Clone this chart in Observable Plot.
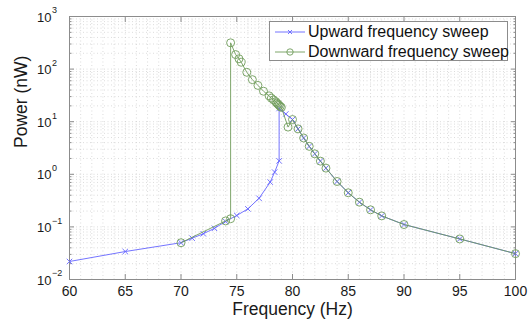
<!DOCTYPE html>
<html><head><meta charset="utf-8">
<script src="https://cdn.jsdelivr.net/npm/d3@7"></script>
<script src="https://cdn.jsdelivr.net/npm/@observablehq/plot@0.6"></script>
<style>
body{margin:0;background:#fff;font-family:"Liberation Sans",Arial,sans-serif}
#wrap{position:relative;width:530px;height:320px}
.legend{position:absolute;left:269px;top:21px;width:239px;height:40px;border:1px solid #8c8c8c;background:#fff;font-size:16px;color:#111;box-sizing:border-box}
.row{position:absolute;left:5px;height:20px;display:flex;align-items:center;white-space:nowrap}
.row svg{margin-right:3px}
</style></head>
<body><div id="wrap"></div>
<script>
const upFreq  = [60, 65, 70, 71, 72, 73, 74, 75, 76, 77, 78, 78.4, 78.8, 78.8, 79.4, 80, 80.5, 81, 81.5, 82, 82.5, 83, 84, 85, 86, 87, 88, 90, 95, 100];
const upPower = [0.022, 0.034, 0.05, 0.061, 0.074, 0.094, 0.127, 0.165, 0.22, 0.35, 0.71, 1.1, 1.8, 17.8, 14, 11, 7.3, 4.9, 3.4, 2.45, 1.78, 1.31, 0.73, 0.445, 0.295, 0.211, 0.162, 0.111, 0.059, 0.031];
const downFreq  = [100, 95, 90, 88, 87, 86, 85, 84, 83, 82.5, 82, 81.5, 81, 80.5, 80, 79.6, 79, 78.9, 78.8, 78.7, 78.6, 78.5, 78.3, 78.1, 77.9, 77.4, 76.9, 76.4, 75.9, 75.4, 75.2, 74.9, 74.45, 74.45, 74, 70];
const downPower = [0.031, 0.059, 0.111, 0.162, 0.211, 0.295, 0.445, 0.73, 1.31, 1.78, 2.45, 3.4, 4.9, 7.3, 11, 7.9, 18.7, 19.5, 20.5, 21.5, 22.5, 24, 26, 28, 31, 38, 49, 63, 87, 135, 157, 189, 316, 0.143, 0.13, 0.05];
const xTicks = [60, 65, 70, 75, 80, 85, 90, 95, 100];
const yTickExponents = [-2, -1, 0, 1, 2, 3];
const seriesNames = ["Upward frequency sweep", "Downward frequency sweep"];
const xLabel = "Frequency (Hz)";
const yLabel = "Power (nW)";

const blue = "#6464ff", green = "#6f9c5a", axisGray = "#8c8c8c", ink = "#1a1a1a";
const up = upFreq.map((f, i) => ({f, p: upPower[i]}));
const down = downFreq.map((f, i) => ({f, p: downPower[i]}));
const yMajor = yTickExponents.map(e => Math.pow(10, e));
const yMinor = [];
for (let e = -2; e <= 2; e++) for (let k = 2; k <= 9; k++) yMinor.push(k * Math.pow(10, e));
const xMinor = d3.range(60, 101, 1);
const sup = e => String(e).replace("-", "\u2212");

const grid = {stroke: "#c4c4c4", strokeOpacity: 1, strokeDasharray: "1,2.5", strokeWidth: 0.6};
const tk = {tickFormat: () => "", label: null, stroke: axisGray};

const chart = Plot.plot({
  width: 530, height: 320,
  marginLeft: 69, marginRight: 15, marginTop: 16, marginBottom: 41,
  style: {fontFamily: "Liberation Sans, Arial, sans-serif", background: "white", color: ink},
  x: {domain: [60, 100]},
  y: {type: "log", domain: [1e-2, 1e3]},
  marks: [
    Plot.gridX(xMinor, grid),
    Plot.gridY(yMinor, grid),
    Plot.gridY(yMajor, grid),
    Plot.axisX(xTicks, {anchor: "bottom", tickSize: -5, ...tk}),
    Plot.axisX(xTicks, {anchor: "top", tickSize: -5, ...tk}),
    Plot.axisY(yMajor, {anchor: "left", tickSize: -5, ...tk}),
    Plot.axisY(yMajor, {anchor: "right", tickSize: -5, ...tk}),
    Plot.axisY(yMinor, {anchor: "left", tickSize: -2.5, ...tk}),
    Plot.axisY(yMinor, {anchor: "right", tickSize: -2.5, ...tk}),
    Plot.axisX(xTicks, {anchor: "bottom", tickSize: 0, tickPadding: 7, fontSize: 14, label: null, fill: ink}),
    Plot.text(yMajor, {y: d => d, text: () => "10", frameAnchor: "left", dx: -18, dy: 1, textAnchor: "end", fontSize: 13, fill: ink}),
    Plot.text(yMajor, {y: d => d, text: (d, i) => sup(yTickExponents[i]), frameAnchor: "left", dx: -17.5, dy: -6, textAnchor: "start", fontSize: 9, fill: ink}),
    Plot.text([xLabel], {text: d => d, frameAnchor: "bottom", dy: 35, fontSize: 17.5, fill: ink}),
    Plot.text([yLabel], {text: d => d, frameAnchor: "left", dx: -48, rotate: -90, fontSize: 17.5, fill: ink}),
    Plot.frame({stroke: axisGray}),
    Plot.line(up, {x: "f", y: "p", stroke: blue, strokeWidth: 0.9}),
    Plot.dot(up, {x: "f", y: "p", symbol: "times", r: 2.6, stroke: blue, strokeWidth: 0.9}),
    Plot.line(down, {x: "f", y: "p", stroke: green, strokeWidth: 0.9}),
    Plot.dot(down, {x: "f", y: "p", symbol: "circle", r: 4, fill: "none", stroke: green, strokeWidth: 0.9})
  ]
});
const wrap = document.getElementById("wrap");
wrap.appendChild(chart);

const legend = document.createElement("div");
legend.className = "legend";
const sample = (color, marker) =>
  `<svg width="30" height="12"><line x1="0" y1="6" x2="30" y2="6" stroke="${color}" stroke-width="0.9"/>` +
  (marker === "x"
    ? `<path d="M13,4L17,8M17,4L13,8" stroke="${color}" stroke-width="0.9"/>`
    : `<circle cx="15" cy="6" r="3.2" fill="none" stroke="${color}" stroke-width="0.9"/>`) + `</svg>`;
legend.innerHTML =
  `<div class="row" style="top:0px">${sample(blue, "x")}<span>${seriesNames[0]}</span></div>` +
  `<div class="row" style="top:20px">${sample(green, "o")}<span>${seriesNames[1]}</span></div>`;
wrap.appendChild(legend);
</script>
</body></html>
